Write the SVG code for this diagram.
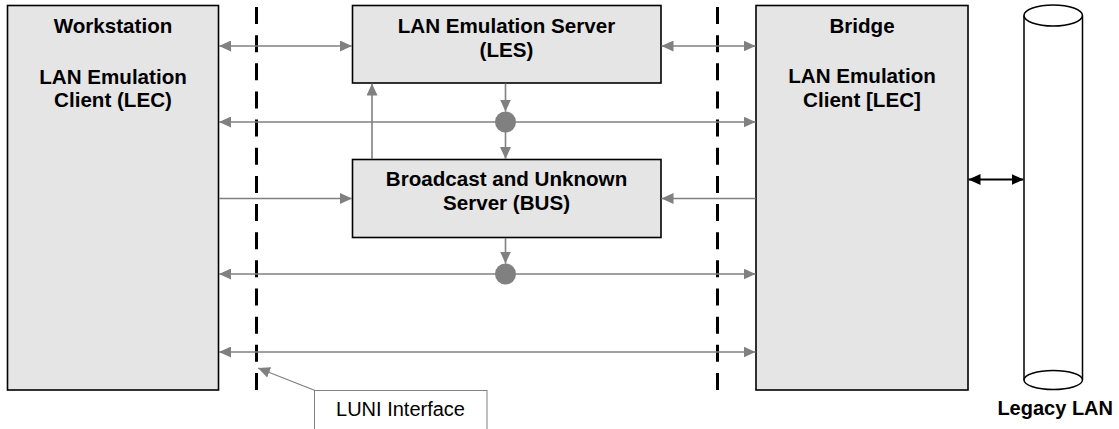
<svg xmlns="http://www.w3.org/2000/svg" width="1119" height="429" viewBox="0 0 1119 429">
<style>
.box{fill:#e5e5e5;stroke:#000;stroke-width:1.6}
.lbl{font-family:"Liberation Sans",Arial,sans-serif;font-size:20.6px;font-weight:bold;fill:#000;text-anchor:middle}
.plain{font-family:"Liberation Sans",Arial,sans-serif;font-size:20px;fill:#000;text-anchor:middle}
.con{stroke:#808080;stroke-width:1.6;fill:none}
.dash{stroke:#000;stroke-width:3;stroke-dasharray:17 11.15;fill:none}
.dot{fill:#808080}
</style>
<defs>
<marker id="ag" markerUnits="userSpaceOnUse" viewBox="0 0 12 11" refX="12" refY="5.5" markerWidth="12" markerHeight="11" orient="auto-start-reverse">
<path d="M0,0 L12,5.5 L0,11 z" fill="#808080"/>
</marker>
<marker id="ab" markerUnits="userSpaceOnUse" viewBox="0 0 12 11" refX="12" refY="5.5" markerWidth="12" markerHeight="11" orient="auto-start-reverse">
<path d="M0,0 L12,5.5 L0,11 z" fill="#000"/>
</marker>
</defs>

<g id="interfaces">
<line class="dash" x1="256.5" y1="7" x2="256.5" y2="390"/>
<line class="dash" x1="717.5" y1="7" x2="717.5" y2="390"/>
</g>

<g id="workstation">
<rect class="box" x="7.5" y="5.5" width="211" height="384.5"/>
<text class="lbl" x="113" y="33">Workstation</text>
<text class="lbl" x="113" y="84">LAN Emulation</text>
<text class="lbl" x="113" y="107">Client (LEC)</text>
</g>

<g id="les">
<rect class="box" x="352.5" y="5.5" width="308.5" height="77.5"/>
<text class="lbl" x="506.5" y="33">LAN Emulation Server</text>
<text class="lbl" x="506.5" y="56.5">(LES)</text>
</g>

<g id="bus">
<rect class="box" x="352.5" y="159.5" width="308.5" height="78"/>
<text class="lbl" x="506.5" y="186">Broadcast and Unknown</text>
<text class="lbl" x="506.5" y="210">Server (BUS)</text>
</g>

<g id="bridge">
<rect class="box" x="756" y="5.5" width="212" height="384.5"/>
<text class="lbl" x="862" y="33">Bridge</text>
<text class="lbl" x="862" y="83">LAN Emulation</text>
<text class="lbl" x="862" y="107">Client [LEC]</text>
</g>

<g id="legacy-lan">
<rect x="1024" y="15.5" width="58.5" height="364.5" fill="#fff"/>
<path d="M1024,15.5 L1024,380 M1082.5,15.5 L1082.5,380" stroke="#000" stroke-width="1.5" fill="none"/>
<ellipse cx="1053.2" cy="15.5" rx="29.2" ry="10.5" fill="#fff" stroke="#000" stroke-width="1.5"/>
<ellipse cx="1053.2" cy="380" rx="29.2" ry="9.5" fill="#fff" stroke="#000" stroke-width="1.5"/>
<text class="lbl" x="1113" y="415" style="text-anchor:end;font-size:20px">Legacy LAN</text>
</g>

<g id="luni">
<rect x="314.5" y="390.5" width="172.5" height="45" fill="#fff" stroke="#808080" stroke-width="1"/>
<text class="plain" x="400.5" y="416">LUNI Interface</text>
</g>

<g id="connectors">
<line class="con" x1="219" y1="46" x2="352" y2="46" marker-start="url(#ag)" marker-end="url(#ag)"/>
<line class="con" x1="661.5" y1="46" x2="755.5" y2="46" marker-start="url(#ag)" marker-end="url(#ag)"/>
<line class="con" x1="219" y1="122" x2="755.5" y2="122" marker-start="url(#ag)" marker-end="url(#ag)"/>
<circle class="dot" cx="505.5" cy="122" r="10.5"/>
<line class="con" x1="505.5" y1="83.5" x2="505.5" y2="111.5" marker-end="url(#ag)"/>
<line class="con" x1="505.5" y1="132" x2="505.5" y2="159" marker-end="url(#ag)"/>
<line class="con" x1="372" y1="159" x2="372" y2="83.5" marker-end="url(#ag)"/>
<line class="con" x1="219" y1="198.5" x2="352" y2="198.5" marker-end="url(#ag)"/>
<line class="con" x1="755.5" y1="198.5" x2="661.5" y2="198.5" marker-end="url(#ag)"/>
<line class="con" x1="505.5" y1="238" x2="505.5" y2="263.5" marker-end="url(#ag)"/>
<line class="con" x1="219" y1="274" x2="755.5" y2="274" marker-start="url(#ag)" marker-end="url(#ag)"/>
<circle class="dot" cx="505.5" cy="274" r="10.5"/>
<line class="con" x1="219" y1="352" x2="755.5" y2="352" marker-start="url(#ag)" marker-end="url(#ag)"/>
<line x1="968.5" y1="179.5" x2="1023.5" y2="179.5" stroke="#000" stroke-width="2" marker-start="url(#ab)" marker-end="url(#ab)"/>
<line x1="315" y1="390.5" x2="258" y2="368" stroke="#808080" stroke-width="1.3" marker-end="url(#ag)"/>
</g>
</svg>
